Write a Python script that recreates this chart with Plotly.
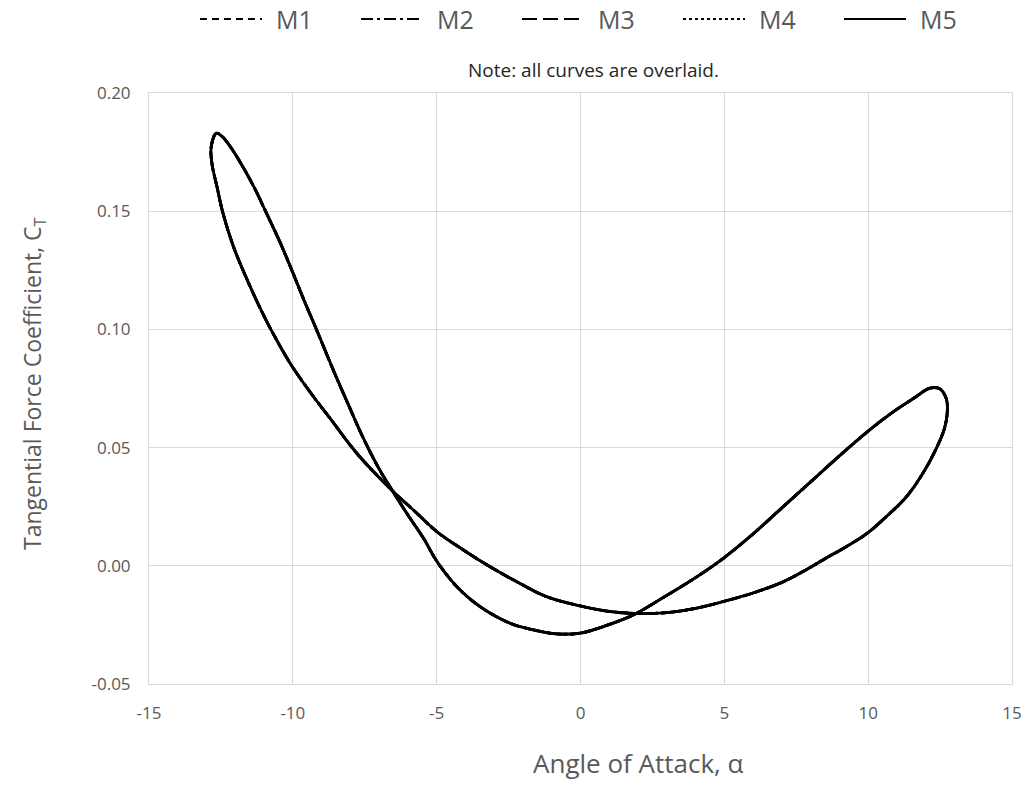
import plotly.graph_objects as go

# Hysteresis loop of the tangential force coefficient vs. angle of attack (deg)
alpha_deg = [
    -12.66, -12.45, -12.10, -11.70, -11.30, -10.95, -10.45, -10.00, -9.60, -9.18,
    -8.60, -8.10, -7.55, -7.00, -6.55, -6.00, -5.45, -5.00, -4.30, -3.49,
    -2.45, -1.64, -0.83, -0.02, 0.79, 1.83, 3.00, 4.00, 5.00, 6.00,
    7.00, 8.00, 9.00, 10.00, 10.80, 11.60, 12.15, 12.50, 12.72, 12.75,
    12.65, 12.37, 11.90, 11.33, 10.63, 9.96, 9.24, 8.50, 7.80, 7.00,
    6.00, 5.00, 4.00, 3.00, 2.00, 1.00, 0.00, -1.17, -2.22, -3.20,
    -4.07, -4.99, -5.81, -6.56, -7.77, -8.70, -9.28, -10.09, -10.75, -11.10,
    -11.53, -12.06, -12.44, -12.63, -12.81, -12.84, -12.66,
]
ct = [
    0.1830, 0.1815, 0.1760, 0.1680, 0.1590, 0.1500, 0.1370, 0.1240, 0.1120, 0.1000,
    0.0830, 0.0690, 0.0540, 0.0410, 0.0320, 0.0215, 0.0115, 0.0020, -0.0088, -0.0173,
    -0.0243, -0.0271, -0.0288, -0.0285, -0.0257, -0.0208, -0.0125, -0.0050, 0.0035, 0.0135,
    0.0245, 0.0355, 0.0465, 0.0570, 0.0645, 0.0710, 0.0752, 0.0748, 0.0705, 0.0650,
    0.0580, 0.0497, 0.0391, 0.0292, 0.0208, 0.0137, 0.0081, 0.0030, -0.0020, -0.0070,
    -0.0115, -0.0150, -0.0180, -0.0198, -0.0202, -0.0193, -0.0170, -0.0131, -0.0067, 0.0000,
    0.0067, 0.0144, 0.0236, 0.0320, 0.0475, 0.0623, 0.0715, 0.0856, 0.0997, 0.1081,
    0.1194, 0.1349, 0.1497, 0.1600, 0.1700, 0.1770, 0.1830,
]

models = ["M1", "M2", "M3", "M4", "M5"]
dashes = ["7px,5px", "12px,4px,3px,4px", "15px,6px", "dot", "solid"]

x_ticks = [-15, -10, -5, 0, 5, 10, 15]
x_tick_text = ["-15", "-10", "-5", "0", "5", "10", "15"]
y_ticks = [-0.05, 0.0, 0.05, 0.10, 0.15, 0.20]
y_tick_text = ["-0.05", "0.00", "0.05", "0.10", "0.15", "0.20"]

FONT = "Open Sans"
GREY = "#595959"

W, H = 1027, 787
L, R, T, B = 149, 15, 93, 103
pw, ph = W - L - R, H - T - B


def px_x(p):
    return (p - L) / pw


def px_y(p):
    return (H - B - p) / ph


fig = go.Figure()
for name, dash in zip(models, dashes):
    fig.add_trace(go.Scatter(
        x=alpha_deg, y=ct, name=name, mode="lines", showlegend=False,
        line=dict(color="black", width=2.8, dash=dash, shape="spline", smoothing=1.0),
    ))

# Legend row: a line sample and a label for every model
shapes, annotations = [], []
legend_y = px_y(19)
for i, (name, dash) in enumerate(zip(models, dashes)):
    x0 = 200 + 161 * i
    shapes.append(dict(
        type="line", xref="paper", yref="paper",
        x0=px_x(x0), x1=px_x(x0 + 62), y0=legend_y, y1=legend_y,
        line=dict(color="black", width=2, dash=dash),
    ))
    annotations.append(dict(
        text=name, xref="paper", yref="paper", x=px_x(x0 + 74), y=legend_y,
        xanchor="left", yanchor="middle", showarrow=False,
        font=dict(size=25, color=GREY),
    ))

annotations += [
    dict(text="Note: all curves are overlaid.", xref="paper", yref="paper",
         x=px_x(593), y=px_y(70), xanchor="center", yanchor="middle", showarrow=False,
         font=dict(size=19, color="#262626")),
    dict(text="Angle of Attack, α", xref="paper", yref="paper",
         x=px_x(638), y=px_y(763), xanchor="center", yanchor="middle", showarrow=False,
         font=dict(size=26, color=GREY)),
    dict(text="Tangential Force Coefficient, C<sub>T</sub>", xref="paper", yref="paper",
         x=px_x(33), y=px_y(384), xanchor="center", yanchor="middle", showarrow=False,
         textangle=-90, font=dict(size=23, color=GREY)),
]

fig.update_layout(
    width=W, height=H,
    margin=dict(l=L, r=R, t=T, b=B, autoexpand=False),
    paper_bgcolor="white", plot_bgcolor="white",
    font=dict(family=FONT, color=GREY),
    showlegend=False,
    shapes=shapes,
    annotations=annotations,
)

fig.update_xaxes(
    range=[-15, 15], tickvals=x_ticks, ticktext=x_tick_text,
    showgrid=True, gridcolor="#D9D9D9", gridwidth=1,
    showline=True, linecolor="#D9D9D9", linewidth=1, mirror=True,
    zeroline=False, ticks="", ticklabelstandoff=14,
    tickfont=dict(size=17, color=GREY),
)
fig.update_yaxes(
    range=[-0.05, 0.20], tickvals=y_ticks, ticktext=y_tick_text,
    showgrid=True, gridcolor="#D9D9D9", gridwidth=1,
    showline=True, linecolor="#D9D9D9", linewidth=1, mirror=True,
    zeroline=False, ticks="", ticklabelstandoff=14,
    tickfont=dict(size=17, color=GREY),
)

fig.write_html("out.html")
